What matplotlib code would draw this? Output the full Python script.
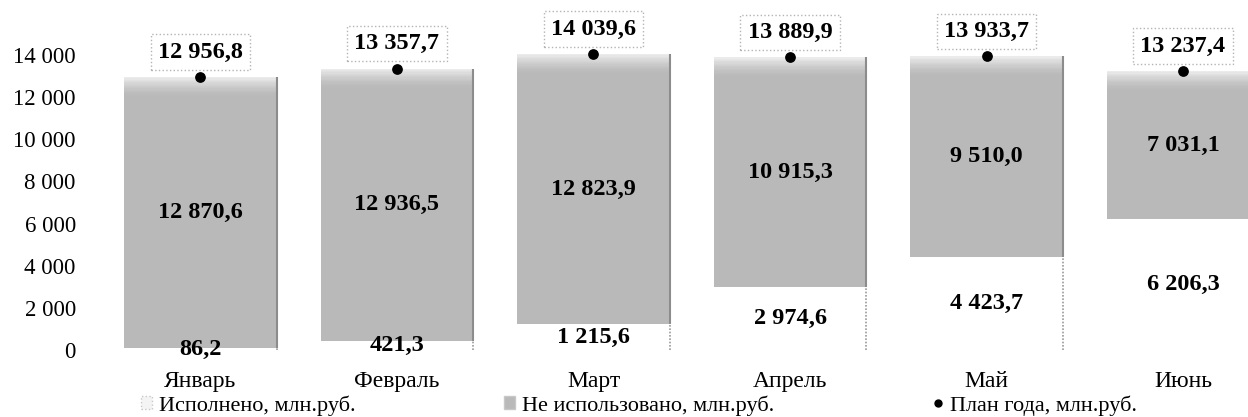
import matplotlib
matplotlib.use("Agg")
from matplotlib import pyplot as plt
from matplotlib.lines import Line2D
import matplotlib.patches as mpatches
import numpy as np

months = ["Январь", "Февраль", "Март", "Апрель", "Май", "Июнь"]
done = [86.2, 421.3, 1215.6, 2974.6, 4423.7, 6206.3]
unused = [12870.6, 12936.5, 12823.9, 10915.3, 9510.0, 7031.1]
plan = [12956.8, 13357.7, 14039.6, 13889.9, 13933.7, 13237.4]
yticks = [0, 2000, 4000, 6000, 8000, 10000, 12000, 14000]


def fmt(v, dec=1):
    s = f"{v:,.{dec}f}".replace(",", " ").replace(".", ",")
    return s


plt.rcParams['font.family'] = ['Liberation Serif', 'DejaVu Serif']

fig = plt.figure(figsize=(12.48, 4.17), dpi=100)
ax = fig.add_axes([0.0819, 0.1607, 0.918, 0.7578])

x = np.arange(len(months))
w = 0.775
gray = "#b9b9b9"

ax.bar(x, done, w, color="white", edgecolor="none")
ax.vlines(x + w / 2, 0, done, color="#9a9a9a", lw=1.2, linestyles=(0, (1, 1)))
ax.bar(x, unused, w, bottom=done, color=gray, edgecolor="none")
ax.vlines(x + w / 2, done, plan, color="#8c8c8c", lw=1.5)

# lighter band at the top of each gray bar
steps = 15
band = 900.0
for i in range(steps):
    t = (i + 1) / steps
    c = 0.725 + (0.92 - 0.725) * t ** 1.5
    ax.bar(x, band / steps, w, bottom=np.array(plan) - band + i * band / steps,
           color=(c, c, c), edgecolor="none")

ax.scatter(x, plan, s=45, color="black", zorder=5)

for i in range(len(months)):
    ax.text(x[i], done[i] / 2, fmt(done[i]), ha="center", va="center",
            fontsize=17.5, fontweight="bold", zorder=6)
    ax.text(x[i], done[i] + unused[i] / 2, fmt(unused[i]), ha="center", va="center",
            fontsize=17.5, fontweight="bold", zorder=6)
    ax.annotate(fmt(plan[i]), (x[i], plan[i]), xytext=(0, 18), textcoords="offset points",
                ha="center", va="center", fontsize=17.5, fontweight="bold", zorder=6,
                annotation_clip=False,
                bbox=dict(boxstyle="square,pad=0.3", fc="white", ec="#b4b4b4", ls=":", lw=1))

ax.set_xlim(-0.5, 5.33)
ax.set_ylim(0, 15000)
ax.set_yticks(yticks)
ax.set_yticklabels([fmt(v, 0) for v in yticks], fontsize=16.5)
ax.set_xticks(x)
ax.set_xticklabels(months, fontsize=17)
ax.tick_params(axis="both", length=0)
ax.tick_params(axis="y", pad=19)
ax.tick_params(axis="x", pad=15)
for s in ax.spines.values():
    s.set_visible(False)

handles = [
    mpatches.Patch(facecolor="#f4f4f4", edgecolor="#c8c8c8", ls=":", label="Исполнено, млн.руб."),
    mpatches.Patch(facecolor=gray, edgecolor="#c8c8c8", label="Не использовано, млн.руб."),
    Line2D([], [], marker="o", color="black", ls="none", markersize=5, label="План года, млн.руб."),
]
legend_x = [0.113, 0.404, 0.747]
for h, lx in zip(handles, legend_x):
    fig.legend(handles=[h], loc="center left", bbox_to_anchor=(lx, 0.028),
               frameon=False, fontsize=16, handlelength=0.5, handleheight=0.5,
               handletextpad=0.3, borderaxespad=0, borderpad=0)

fig.savefig("out.png", dpi=100)
